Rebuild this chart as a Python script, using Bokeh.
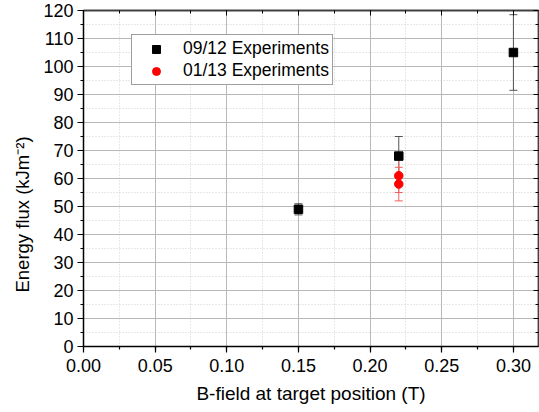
from bokeh.plotting import figure
from bokeh.models import (ColumnDataSource, Whisker, TeeHead, SingleIntervalTicker,
                          NumeralTickFormatter, LinearAxis, Range1d, Legend, LegendItem,
                          CustomJSTickFormatter)
from bokeh.embed import file_html
from bokeh.resources import INLINE

# Data
b_0912 = [0.15, 0.22, 0.30]
flux_0912 = [49, 68, 105]
err_0912 = [2, 7, 13.5]

b_0113 = [0.22, 0.22]
flux_0113 = [61, 58]
err_0113 = [6, 6]

FONT = "Liberation Sans"

p = figure(width=539, height=412, output_backend="svg", toolbar_location=None,
           x_range=Range1d(0, 0.3175), y_range=Range1d(0, 120),
           min_border_left=83, min_border_right=1, min_border_top=10, min_border_bottom=66)
p.outline_line_color = None
p.background_fill_color = "white"

xt = SingleIntervalTicker(interval=0.05, num_minor_ticks=2)
yt = SingleIntervalTicker(interval=10, num_minor_ticks=2)

p.xaxis.ticker = xt
p.yaxis.ticker = yt
p.xaxis.formatter = NumeralTickFormatter(format="0.00")

for ax in (p.xaxis[0], p.yaxis[0]):
    ax.axis_line_color = "black"
    ax.axis_line_width = 1.5
    ax.major_tick_line_color = "black"
    ax.minor_tick_line_color = "black"
    ax.major_tick_line_width = 1.2
    ax.minor_tick_line_width = 1.2
    ax.major_tick_out = 6
    ax.major_tick_in = 0
    ax.minor_tick_out = 3
    ax.minor_tick_in = 0
    ax.major_label_text_font = FONT
    ax.major_label_text_font_size = "18px"
    ax.major_label_text_color = "black"
    ax.axis_label_text_font = FONT
    ax.axis_label_text_font_style = "normal"
    ax.axis_label_text_color = "black"

p.xaxis.axis_label = "B-field at target position (T)"
p.yaxis.axis_label = "Energy flux (kJm\u207b\u00b2)" + "\u00a0" * 14
p.xaxis.axis_label_text_font_size = "19px"
p.yaxis.axis_label_text_font_size = "18.5px"
p.xaxis.major_label_standoff = 6
p.xaxis.axis_label_standoff = 8
p.yaxis.major_label_standoff = 4
p.yaxis.axis_label_standoff = 7

for loc, tk in (("above", xt), ("right", yt)):
    ax = LinearAxis(ticker=tk, axis_line_color="#404040", axis_line_width=1.8,
                    major_tick_in=5, major_tick_out=0, minor_tick_in=3, minor_tick_out=0,
                    major_tick_line_color="black", minor_tick_line_color="black",
                    formatter=CustomJSTickFormatter(code="return ''"),
                    major_label_text_font_size="1px", major_label_standoff=0)
    p.add_layout(ax, loc)

# Grids
for g in (p.xgrid[0], p.ygrid[0]):
    g.grid_line_color = "#b8b8b8"
    g.grid_line_width = 1
    g.minor_grid_line_color = "#d0d0d0"
    g.minor_grid_line_dash = "1 2"
    g.minor_grid_line_width = 1
p.xgrid.ticker = xt
p.ygrid.ticker = yt

src1 = ColumnDataSource(dict(x=b_0912, y=flux_0912,
                             lo=[f - e for f, e in zip(flux_0912, err_0912)],
                             hi=[f + e for f, e in zip(flux_0912, err_0912)]))
src2 = ColumnDataSource(dict(x=b_0113, y=flux_0113,
                             lo=[f - e for f, e in zip(flux_0113, err_0113)],
                             hi=[f + e for f, e in zip(flux_0113, err_0113)]))

w1 = Whisker(source=src1, base="x", upper="hi", lower="lo", dimension="height",
             line_color="#555555", line_width=1,
             upper_head=TeeHead(size=8, line_color="#555555", line_width=1),
             lower_head=TeeHead(size=8, line_color="#555555", line_width=1))
w2 = Whisker(source=src2, base="x", upper="hi", lower="lo", dimension="height",
             line_color="#f06060", line_width=1,
             upper_head=TeeHead(size=8, line_color="#f06060", line_width=1),
             lower_head=TeeHead(size=8, line_color="#f06060", line_width=1))
p.add_layout(w1)
p.add_layout(w2)

r1 = p.scatter("x", "y", source=src1, marker="square", size=8.5, color="black")
r2 = p.scatter("x", "y", source=src2, marker="circle", size=8.5, color="red")

legend = Legend(items=[LegendItem(label="09/12 Experiments", renderers=[r1]),
                       LegendItem(label="01/13 Experiments", renderers=[r2])],
                location=(48, 261))
legend.label_text_font = FONT
legend.label_text_font_size = "17.5px"
legend.label_text_color = "black"
legend.border_line_color = "#404040"
legend.border_line_width = 1
legend.background_fill_alpha = 1
legend.glyph_width = 42
legend.glyph_height = 20
legend.label_standoff = 6
legend.padding = 3
legend.spacing = 1
legend.margin = 0
legend.label_height = 20
p.add_layout(legend, "center")

open("out.html", "w").write(file_html(p, INLINE))
